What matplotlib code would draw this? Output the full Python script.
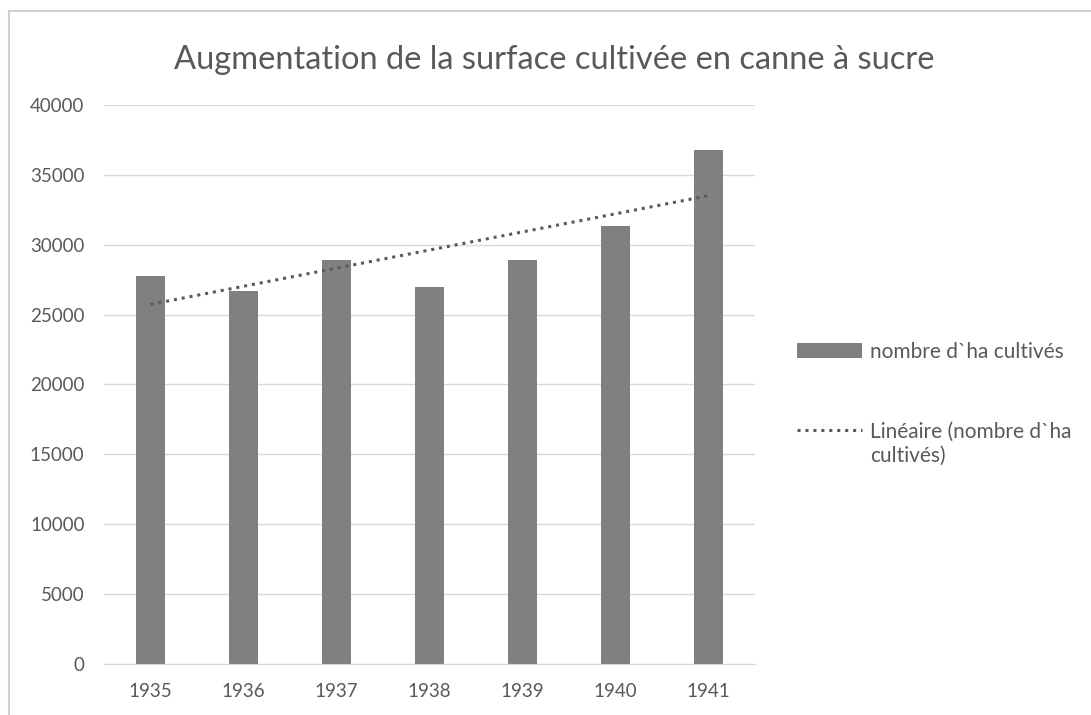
import matplotlib
matplotlib.use('Agg')
from matplotlib import pyplot as plt
from matplotlib.patches import Rectangle
import numpy as np

# data
years = ['1935', '1936', '1937', '1938', '1939', '1940', '1941']
hectares = [27750, 26700, 28900, 27000, 28900, 31350, 36750]
y_ticks = [0, 5000, 10000, 15000, 20000, 25000, 30000, 35000, 40000]

TEXT = '#595959'
BAR = '#808080'
GRID = '#d9d9d9'

plt.rcParams['font.family'] = ['Lato', 'DejaVu Sans']

fig = plt.figure(figsize=(10.91, 7.15), dpi=100)
fig.patches.append(Rectangle((9 / 1091, -0.01), 1.1, 1 - 11 / 715 + 0.01,
                             transform=fig.transFigure, fill=False,
                             edgecolor='#d0d0d0', linewidth=1.5))

ax = fig.add_axes([104 / 1091, 1 - 664 / 715, (755 - 104) / 1091, (664 - 105) / 715])

x = np.arange(len(years))
bars = ax.bar(x, hectares, width=0.31, color=BAR, zorder=2)

# linear trend line like the spreadsheet one
slope, intercept = np.polyfit(x, hectares, 1)
trend, = ax.plot(x, slope * x + intercept, linestyle=(0, (1, 1.6)), color='#5a5a5a',
                 linewidth=2.2, zorder=3)

ax.set_xlim(-0.5, len(years) - 0.5)
ax.set_ylim(0, 40000)
ax.set_xticks(x)
ax.set_xticklabels(years)
ax.set_yticks(y_ticks)
ax.set_yticklabels([str(v) for v in y_ticks])
ax.tick_params(length=0, labelsize=13.5, labelcolor=TEXT)
ax.tick_params(axis='y', pad=14)
ax.tick_params(axis='x', pad=14)
ax.yaxis.grid(True, color=GRID, linewidth=1)
ax.set_axisbelow(True)
for side in ['top', 'right', 'left']:
    ax.spines[side].set_visible(False)
ax.spines['bottom'].set_color(GRID)

fig.text(554 / 1091, 1 - 60 / 715, 'Augmentation de la surface cultivée en canne à sucre',
         ha='center', va='center', fontsize=23.5, color=TEXT)

leg = fig.legend([bars, trend], ['nombre d`ha cultivés', 'Linéaire (nombre d`ha'],
                 loc='upper left', bbox_to_anchor=(797 / 1091, 1 - 342 / 715),
                 frameon=False, fontsize=15, handlelength=3.1, labelspacing=2.85,
                 handletextpad=0.4, borderpad=0, borderaxespad=0)
for t in leg.get_texts():
    t.set_color(TEXT)

# second line of the trend label, under its first line like in the spreadsheet legend
fig.canvas.draw()
bb = leg.get_texts()[1].get_window_extent()
fig.text(bb.x0 / 1091, (bb.y0 - 4) / 715, 'cultivés)', ha='left', va='top',
         fontsize=15, color=TEXT)

fig.savefig('out.png', dpi=100)
